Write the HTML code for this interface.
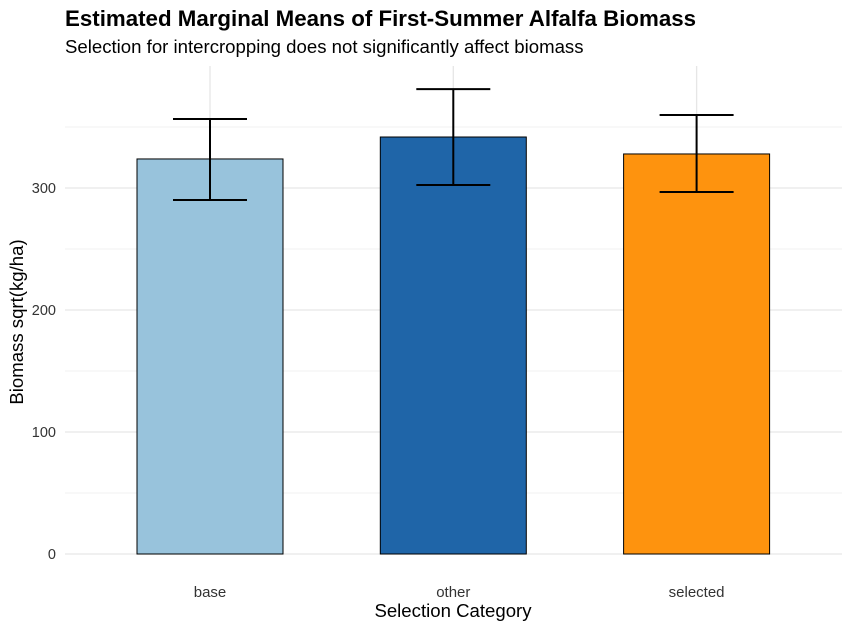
<!DOCTYPE html>
<html><head><meta charset="utf-8"><style>
body{margin:0;background:#fff;font-family:"Liberation Sans",sans-serif;}
</style></head><body>
<svg id="chart" width="852" height="631" xmlns="http://www.w3.org/2000/svg">
<text x="65" y="26" font-size="22.3" font-weight="bold" fill="#000">Estimated Marginal Means of First-Summer Alfalfa Biomass</text>
<text x="65" y="53" font-size="18.6" fill="#000">Selection for intercropping does not significantly affect biomass</text>
<g id="grid"></g>
<g id="bars"></g>
<text x="453" y="617" font-size="18.6" text-anchor="middle">Selection Category</text>
<text transform="translate(23,322) rotate(-90)" font-size="18.6" text-anchor="middle">Biomass sqrt(kg/ha)</text>
</svg>
<script>
const categories=["base","other","selected"];
const means=[323.8,341.8,327.9];
const lower=[290.2,302.5,296.7];
const upper=[356.6,381.0,359.8];
const colors=["#98c3dc","#1f65a8","#fe930e"];
const yTicks=[0,100,200,300];
const yMinor=[50,150,250,350];
const ns="http://www.w3.org/2000/svg";
const y=v=>554-v*1.22;
const x=i=>210+i*243.3;
const bw=146, ew=74;
const grid=document.getElementById('grid'), bars=document.getElementById('bars');
function mk(tag,attrs,parent){const e=document.createElementNS(ns,tag);for(const k in attrs)e.setAttribute(k,attrs[k]);parent.appendChild(e);return e;}
yMinor.forEach(v=>{const l=mk('line',{x1:65,x2:842,y1:y(v),y2:y(v),stroke:'#f0f0f0','stroke-width':1},grid);

});
yTicks.forEach(v=>{const l=mk('line',{x1:65,x2:842,y1:y(v),y2:y(v),stroke:'#e6e6e6','stroke-width':1.3},grid);


const t=mk('text',{x:56,y:y(v)+5,'font-size':14.5,'text-anchor':'end',fill:'#333'},grid);t.textContent=v;

});
categories.forEach((c,i)=>{const l=mk('line',{x1:x(i),x2:x(i),y1:66,y2:554,stroke:'#e6e6e6','stroke-width':1.3},grid);

});
categories.forEach((c,i)=>{
const r=mk('rect',{x:x(i)-bw/2,y:y(means[i]),width:bw,height:y(0)-y(means[i]),fill:colors[i],stroke:'#000','stroke-width':1},bars);


const g=mk('g',{stroke:'#000','stroke-width':2,fill:'none'},bars);


mk('line',{x1:x(i),x2:x(i),y1:y(upper[i]),y2:y(lower[i])},g);
mk('line',{x1:x(i)-ew/2,x2:x(i)+ew/2,y1:y(upper[i]),y2:y(upper[i])},g);
mk('line',{x1:x(i)-ew/2,x2:x(i)+ew/2,y1:y(lower[i]),y2:y(lower[i])},g);
const t=mk('text',{x:x(i),y:597,'font-size':15,'text-anchor':'middle',fill:'#333'},bars);t.textContent=c;


});
</script>
</body></html>
